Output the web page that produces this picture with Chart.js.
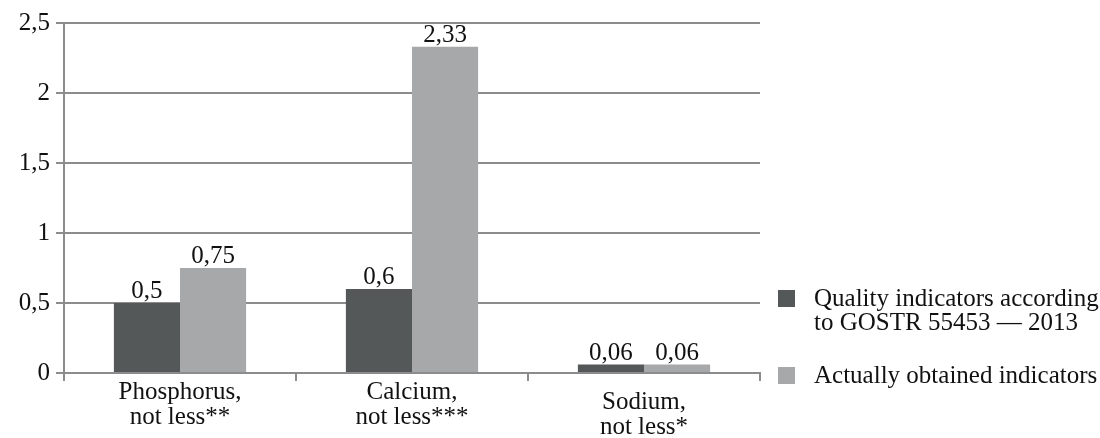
<!DOCTYPE html>
<html>
<head>
<meta charset="utf-8">
<script src="https://cdn.jsdelivr.net/npm/chart.js@4"></script>
<style>
  html, body { margin: 0; padding: 0; background: #ffffff; }
  #wrap { width: 1100px; height: 438px; position: relative; }
</style>
</head>
<body>
<div id="wrap"><canvas id="c" width="1100" height="438"></canvas></div>
<script>
// Mineral content: standard minimum vs measured values
const categories = [
  ['Phosphorus,', 'not less**'],
  ['Calcium,', 'not less***'],
  ['Sodium,', 'not less*']
];
const standardValues = [0.5, 0.6, 0.06];
const obtainedValues = [0.75, 2.33, 0.06];
const seriesNames = [
  ['Quality indicators according', 'to GOSTR 55453 — 2013'],
  ['Actually obtained indicators']
];
const yTicks = [0, 0.5, 1, 1.5, 2, 2.5];

const FONT = '"Liberation Serif", "Times New Roman", serif';
const FSIZE = 25;
const GRID = '#8c8c8c';
const INK = '#111111';
const fmt = v => String(v).replace('.', ',');

// Value labels above each bar
const valueLabels = {
  id: 'valueLabels',
  afterDatasetsDraw(chart) {
    const ctx = chart.ctx;
    ctx.save();
    ctx.font = FSIZE + 'px ' + FONT;
    ctx.fillStyle = INK;
    ctx.textAlign = 'center';
    ctx.textBaseline = 'alphabetic';
    chart.data.datasets.forEach((ds, i) => {
      chart.getDatasetMeta(i).data.forEach((bar, j) => {
        ctx.fillText(fmt(ds.data[j]), bar.x, bar.y - 5);
      });
    });
    ctx.restore();
  }
};

// Two-line category names under the x axis (the last one sits a little lower)
const categoryLabels = {
  id: 'categoryLabels',
  afterDraw(chart) {
    const ctx = chart.ctx;
    const xs = chart.scales.x;
    ctx.save();
    ctx.font = FSIZE + 'px ' + FONT;
    ctx.fillStyle = INK;
    ctx.textAlign = 'center';
    ctx.textBaseline = 'alphabetic';
    const lowered = [0, 0, 10];
    categories.forEach((lines, j) => {
      const x = xs.getPixelForTick(j);
      lines.forEach((ln, k) => {
        ctx.fillText(ln, x, xs.top + 26 + lowered[j] + k * 25);
      });
    });
    ctx.restore();
  }
};

// Legend on the right with wrapped series names
const sideLegend = {
  id: 'sideLegend',
  afterDraw(chart) {
    const ctx = chart.ctx;
    ctx.save();
    ctx.font = FSIZE + 'px ' + FONT;
    ctx.textBaseline = 'alphabetic';
    ctx.textAlign = 'left';
    const x0 = 778, box = 17, tx = 814;
    const tops = [290, 367];
    chart.data.datasets.forEach((ds, i) => {
      const y = tops[i];
      ctx.fillStyle = ds.backgroundColor;
      ctx.fillRect(x0, y, box, box);
      ctx.fillStyle = INK;
      seriesNames[i].forEach((ln, k) => {
        ctx.fillText(ln, tx, y + 16 + k * 24);
      });
    });
    ctx.restore();
  }
};

new Chart(document.getElementById('c'), {
  type: 'bar',
  data: {
    labels: categories,
    datasets: [
      { label: seriesNames[0].join(' '), data: standardValues, backgroundColor: '#545859' },
      { label: seriesNames[1].join(' '), data: obtainedValues, backgroundColor: '#a7a8aa' }
    ]
  },
  options: {
    responsive: false,
    animation: false,
    devicePixelRatio: 1,
    layout: { padding: { top: 23, right: 340, left: 0, bottom: 0 } },
    datasets: { bar: { categoryPercentage: 0.57, barPercentage: 1.0 } },
    plugins: {
      legend: { display: false },
      tooltip: { enabled: false }
    },
    scales: {
      x: {
        grid: { drawOnChartArea: false, drawTicks: true, tickLength: 8, color: GRID, lineWidth: 2 },
        border: { color: GRID, width: 2 },
        ticks: { display: false },
        afterFit(s) { s.height = 65; }
      },
      y: {
        min: 0, max: 2.5,
        afterBuildTicks(s) { s.ticks = yTicks.map(v => ({ value: v })); },
        grid: { color: GRID, lineWidth: 2, drawTicks: true, tickLength: 8 },
        border: { color: GRID, width: 2 },
        ticks: {
          color: INK, font: { family: FONT, size: FSIZE }, padding: 6,
          callback: v => fmt(v)
        },
        afterFit(s) { s.width = 64; }
      }
    }
  },
  plugins: [valueLabels, categoryLabels, sideLegend]
});
</script>
</body>
</html>
